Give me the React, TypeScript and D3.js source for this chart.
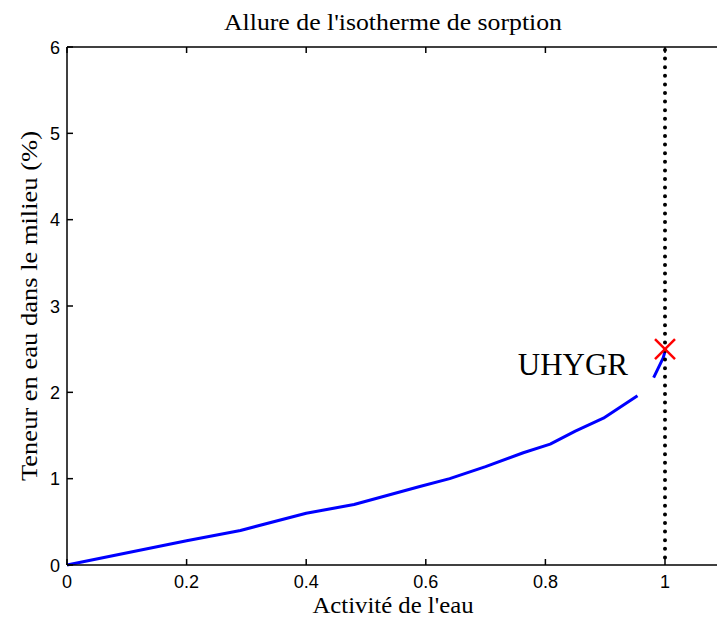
import React from 'react';
import * as d3 from 'd3';

// water activity / moisture content
const awMain = [0, 0.2, 0.29, 0.4, 0.48, 0.59, 0.64, 0.7, 0.763, 0.808, 0.85, 0.897, 0.954];
const uMain = [0, 0.28, 0.4, 0.6, 0.7, 0.91, 1.0, 1.14, 1.3, 1.4, 1.55, 1.7, 1.96];
const awEnd = [0.981, 0.997, 1.001];
const uEnd = [2.17, 2.4, 2.5];
const uhygrPoint = { aw: 1.0, u: 2.5 };
const xTicks = [0, 0.2, 0.4, 0.6, 0.8, 1];
const yTicks = [0, 1, 2, 3, 4, 5, 6];

export default function App() {
  const width = 717;
  const height = 621;
  const left = 67;
  const top = 47;
  const bottom = 565;

  const x = d3.scaleLinear().domain([0, 1.1]).range([left, left + 1.1 * 598]);
  const y = d3.scaleLinear().domain([0, 6]).range([bottom, top]);

  const line = d3.line<[number, number]>()
    .x(d => x(d[0]))
    .y(d => y(d[1]));

  const main = awMain.map((a, i) => [a, uMain[i]] as [number, number]);
  const end = awEnd.map((a, i) => [a, uEnd[i]] as [number, number]);

  const right = x(1.1);
  const mx = x(uhygrPoint.aw);
  const my = y(uhygrPoint.u);
  const serif = '"Liberation Serif", "Times New Roman", serif';
  const sans = '"Liberation Sans", Arial, sans-serif';

  return (
    <svg width={width} height={height} style={{ position: 'absolute', left: 0, top: 0, background: '#fff' }}>
      <rect width={width} height={height} fill="#fff" />
      {/* curve */}
      <path d={line(main) || ''} fill="none" stroke="#0000ff" strokeWidth={3} strokeLinejoin="round" />
      <path d={line(end) || ''} fill="none" stroke="#0000ff" strokeWidth={3} strokeLinejoin="round" />
      {/* dotted line at aw = 1 */}
      <line x1={x(1)} x2={x(1)} y1={top + 3} y2={bottom} stroke="#000" strokeWidth={4}
        strokeDasharray="0 8.6" strokeLinecap="round" />
      {/* UHYGR marker */}
      <g stroke="#ff0000" strokeWidth={2.5}>
        <line x1={mx - 10} y1={my - 10} x2={mx + 10} y2={my + 10} />
        <line x1={mx - 10} y1={my + 10} x2={mx + 10} y2={my - 10} />
      </g>
      <text x={628} y={375} textAnchor="end" fontFamily={serif} fontSize={31} fill="#000">UHYGR</text>

      {/* axes box */}
      <g stroke="#000" strokeWidth={1.5} fill="none">
        <line x1={left} x2={right} y1={bottom} y2={bottom} />
        <line x1={left} x2={right} y1={top} y2={top} />
        <line x1={left} x2={left} y1={top} y2={bottom} />
        <line x1={right} x2={right} y1={top} y2={bottom} />
        {xTicks.map(t => (
          <g key={t}>
            <line x1={x(t)} x2={x(t)} y1={bottom} y2={bottom - 6} />
            <line x1={x(t)} x2={x(t)} y1={top} y2={top + 6} />
          </g>
        ))}
        {yTicks.map(t => (
          <g key={t}>
            <line x1={left} x2={left + 6} y1={y(t)} y2={y(t)} />
            <line x1={right} x2={right - 6} y1={y(t)} y2={y(t)} />
          </g>
        ))}
      </g>
      <g fontFamily={sans} fontSize={18} fill="#000">
        {xTicks.map(t => (
          <text key={t} x={x(t)} y={588} textAnchor="middle">{d3.format('~g')(t)}</text>
        ))}
        {yTicks.map(t => (
          <text key={t} x={60} y={y(t) + 6.5} textAnchor="end">{t}</text>
        ))}
      </g>

      {/* titles */}
      <text x={393} y={30} textAnchor="middle" fontFamily={serif} fontSize={23} fill="#000"
        textLength={338} lengthAdjust="spacingAndGlyphs">
        Allure de l'isotherme de sorption
      </text>
      <text x={393} y={613} textAnchor="middle" fontFamily={serif} fontSize={24} fill="#000"
        textLength={161} lengthAdjust="spacingAndGlyphs">
        Activité de l'eau
      </text>
      <text transform={`translate(37,${(top + bottom) / 2}) rotate(-90)`} textAnchor="middle"
        fontFamily={serif} fontSize={24} fill="#000" textLength={350} lengthAdjust="spacingAndGlyphs">
        Teneur en eau dans le milieu (%)
      </text>
    </svg>
  );
}
